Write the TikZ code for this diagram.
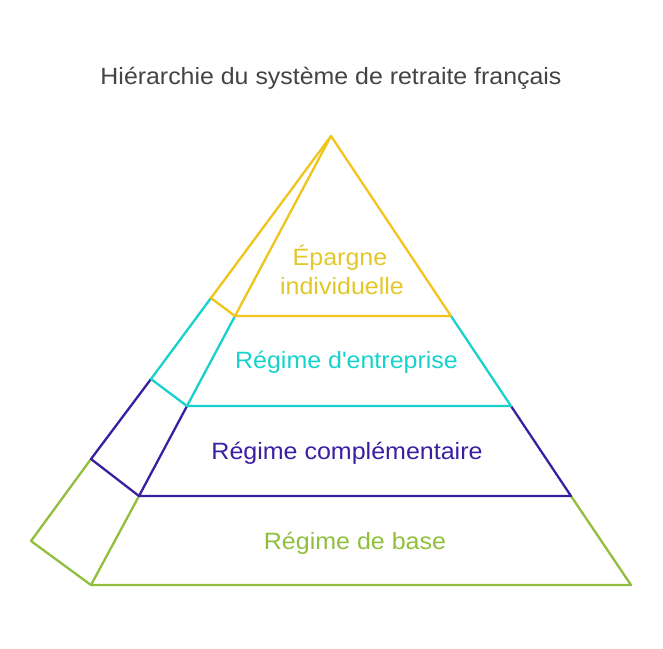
\documentclass[tikz,border=0pt]{standalone}
\usepackage{fontspec}
\setmainfont{Liberation Sans}[FakeStretch=1.06]
\definecolor{cyel}{HTML}{EFC41B}
\definecolor{tyel}{HTML}{E2C72A}
\definecolor{ccya}{HTML}{17D2CC}
\definecolor{cpur}{HTML}{3B1FA3}
\definecolor{cgre}{HTML}{8FBF3C}
\definecolor{ctit}{HTML}{444444}
\begin{document}
\begin{tikzpicture}[x=1pt,y=-1pt,
  edge/.style={line width=2.3pt,line join=round,line cap=round},
  lbl/.style={anchor=base,inner sep=0pt,font=\fontsize{23.6}{28}\selectfont}]
\useasboundingbox (0,0) rectangle (663,648);
\coordinate (A) at (331,136);
\coordinate (O1) at (211,298);
\coordinate (O2) at (151,379);
\coordinate (O3) at (91,459);
\coordinate (O4) at (31,541);
\coordinate (I1) at (235,316);
\coordinate (I2) at (187,406);
\coordinate (I3) at (139,496);
\coordinate (I4) at (91,585);
\coordinate (R1) at (451,316);
\coordinate (R2) at (511,406);
\coordinate (R3) at (571,496);
\coordinate (R4) at (631,585);
% base layer
\draw[edge,cgre] (I3) -- (I4) -- (R4) -- (R3);
\draw[edge,cgre] (O3) -- (O4) -- (I4);
% complementary
\draw[edge,cpur] (I2) -- (I3) -- (R3) -- (R2);
\draw[edge,cpur] (O2) -- (O3) -- (I3);
% entreprise
\draw[edge,ccya] (I1) -- (I2) -- (R2) -- (R1);
\draw[edge,ccya] (O1) -- (O2) -- (I2);
% epargne
\draw[edge,cyel] (A) -- (I1) -- (R1) -- cycle;
\draw[edge,cyel] (A) -- (O1) -- (I1);
% texts
\node[anchor=base,inner sep=0pt,text=ctit,font=\fontsize{23.5}{28}\selectfont] (title) at (331,84) {Hiérarchie du système de retraite français};
\node[lbl,text=tyel] (ep1) at (340,265) {Épargne};
\node[lbl,text=tyel] (ep2) at (342,294) {individuelle};
\node[lbl,text=ccya] (ent) at (346.5,368) {Régime d\textquotesingle entreprise};
\node[lbl,text=cpur] (comp) at (347,459) {Régime complémentaire};
\node[lbl,text=cgre] (base) at (355,549) {Régime de base};
\end{tikzpicture}
\end{document}
